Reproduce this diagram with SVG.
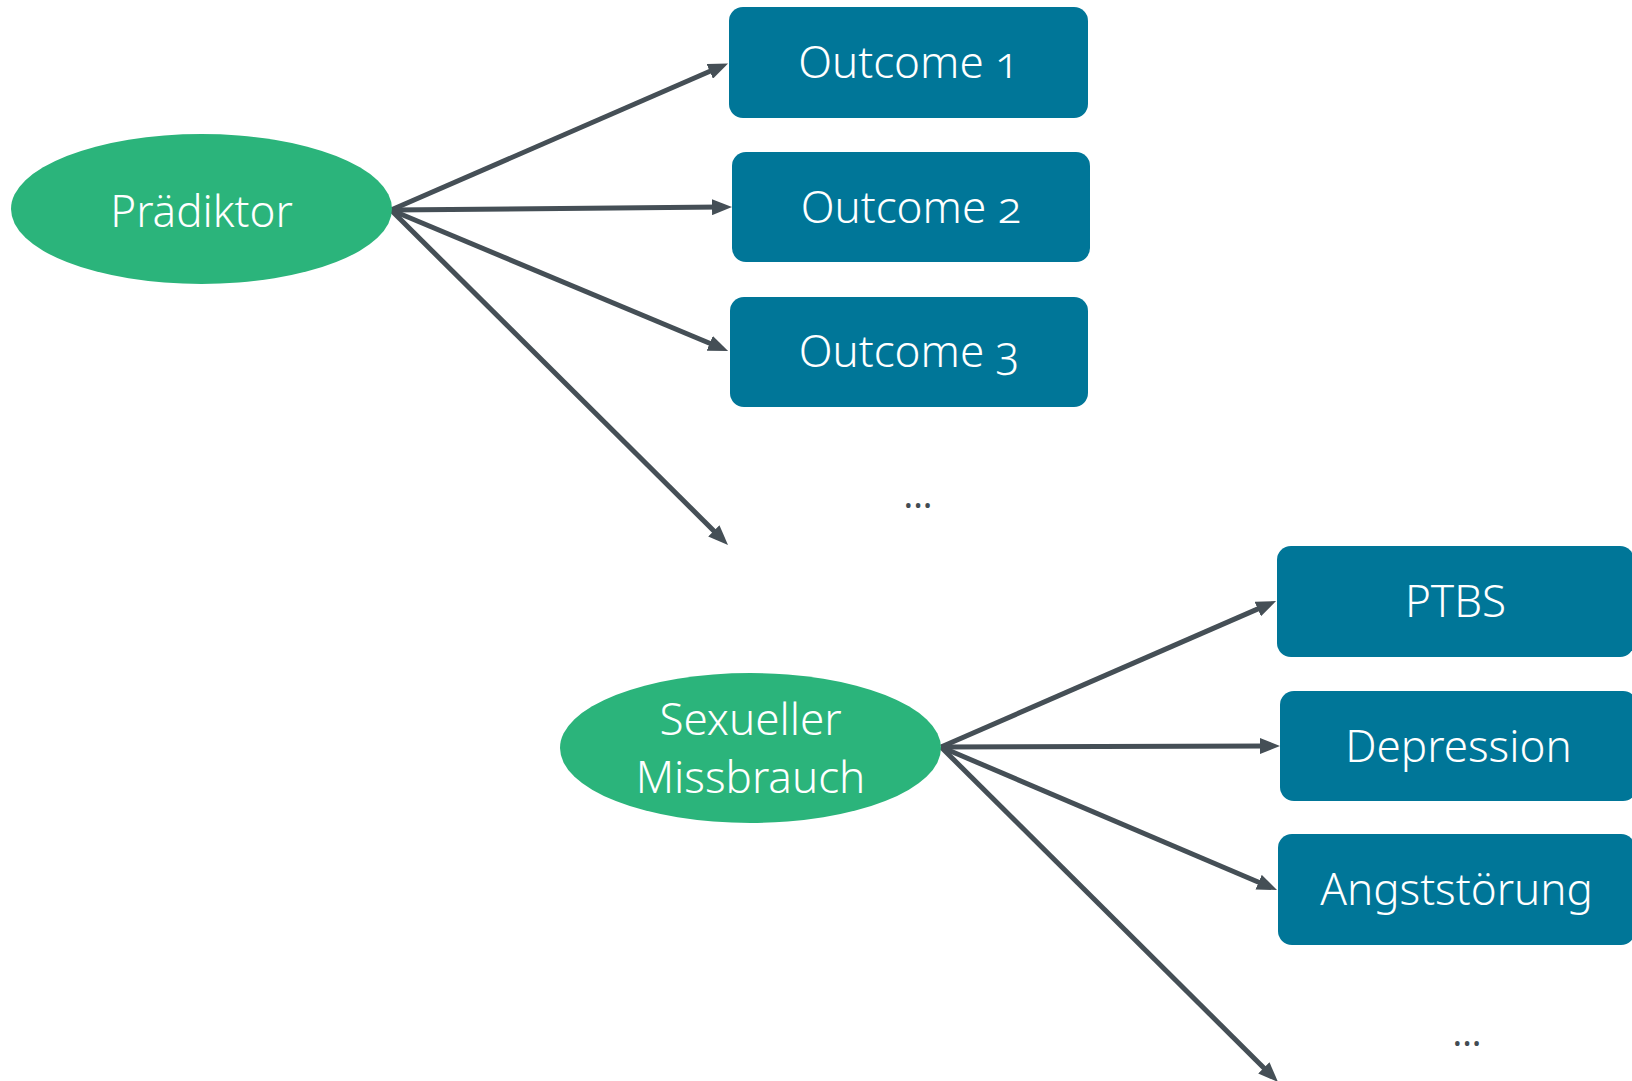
<svg xmlns="http://www.w3.org/2000/svg" width="1632" height="1081" viewBox="0 0 1632 1081">
  <style>
    .pred { fill: #2bb47b; }
    .out { fill: #007698; }
    .lbl { font-family: "Noto Sans", "Open Sans", "Liberation Sans", sans-serif; font-size: 44px; font-weight: 300; fill: #ffffff; text-anchor: middle; font-variant-numeric: oldstyle-nums; }
    .more { font-family: "Noto Sans", "Open Sans", "Liberation Sans", sans-serif; font-size: 36px; fill: #434c53; text-anchor: middle; }
    .edge { stroke: #454f56; stroke-width: 5; fill: none; marker-end: url(#head); }
  </style>
  <defs>
    <marker id="head" markerUnits="userSpaceOnUse" markerWidth="20" markerHeight="16" refX="9" refY="8" orient="auto">
      <path d="M0,0 L20,8 L0,16 z" fill="#454f56"/>
    </marker>
  </defs>
  <rect width="1632" height="1081" fill="#ffffff"/>

  <!-- connectors -->
  <g id="connectors">
    <line class="edge" x1="391" y1="210" x2="718" y2="67.8"/>
    <line class="edge" x1="391" y1="210" x2="721" y2="207.1"/>
    <line class="edge" x1="391" y1="210" x2="718" y2="346.8"/>
    <line class="edge" x1="391" y1="210" x2="720.2" y2="537.2"/>
    <line class="edge" x1="941" y1="747" x2="1266" y2="605.4"/>
    <line class="edge" x1="941" y1="747" x2="1269" y2="746"/>
    <line class="edge" x1="941" y1="747" x2="1266.9" y2="885.7"/>
    <line class="edge" x1="941" y1="747" x2="1270.2" y2="1074.2"/>
  </g>

  <!-- upper group: generic predictor and outcomes -->
  <g id="praediktor">
    <ellipse class="pred" cx="201.5" cy="209" rx="190.5" ry="75"/>
    <text class="lbl" x="201.5" y="227">Prädiktor</text>
  </g>
  <g id="outcome1">
    <rect class="out" x="729" y="7" width="359" height="111" rx="14"/>
    <text class="lbl" x="908.5" y="78">Outcome 1</text>
  </g>
  <g id="outcome2">
    <rect class="out" x="732" y="152" width="358" height="110" rx="14"/>
    <text class="lbl" x="911" y="222.5">Outcome 2</text>
  </g>
  <g id="outcome3">
    <rect class="out" x="730" y="297" width="358" height="110" rx="14"/>
    <text class="lbl" x="909" y="367">Outcome 3</text>
  </g>
  <g id="more1">
    <text class="more" x="918" y="508">...</text>
  </g>

  <!-- lower group: concrete example -->
  <g id="missbrauch">
    <ellipse class="pred" cx="750.5" cy="748" rx="190.5" ry="75"/>
    <text class="lbl" x="750.5" y="735">Sexueller</text>
    <text class="lbl" x="750.5" y="793">Missbrauch</text>
  </g>
  <g id="ptbs">
    <rect class="out" x="1277" y="546" width="357" height="111" rx="14"/>
    <text class="lbl" x="1455.5" y="617">PTBS</text>
  </g>
  <g id="depression">
    <rect class="out" x="1280" y="691" width="357" height="110" rx="14"/>
    <text class="lbl" x="1458.5" y="761.5">Depression</text>
  </g>
  <g id="angststoerung">
    <rect class="out" x="1278" y="834" width="357" height="111" rx="14"/>
    <text class="lbl" x="1456.5" y="905">Angststörung</text>
  </g>
  <g id="more2">
    <text class="more" x="1467" y="1046">...</text>
  </g>
</svg>
